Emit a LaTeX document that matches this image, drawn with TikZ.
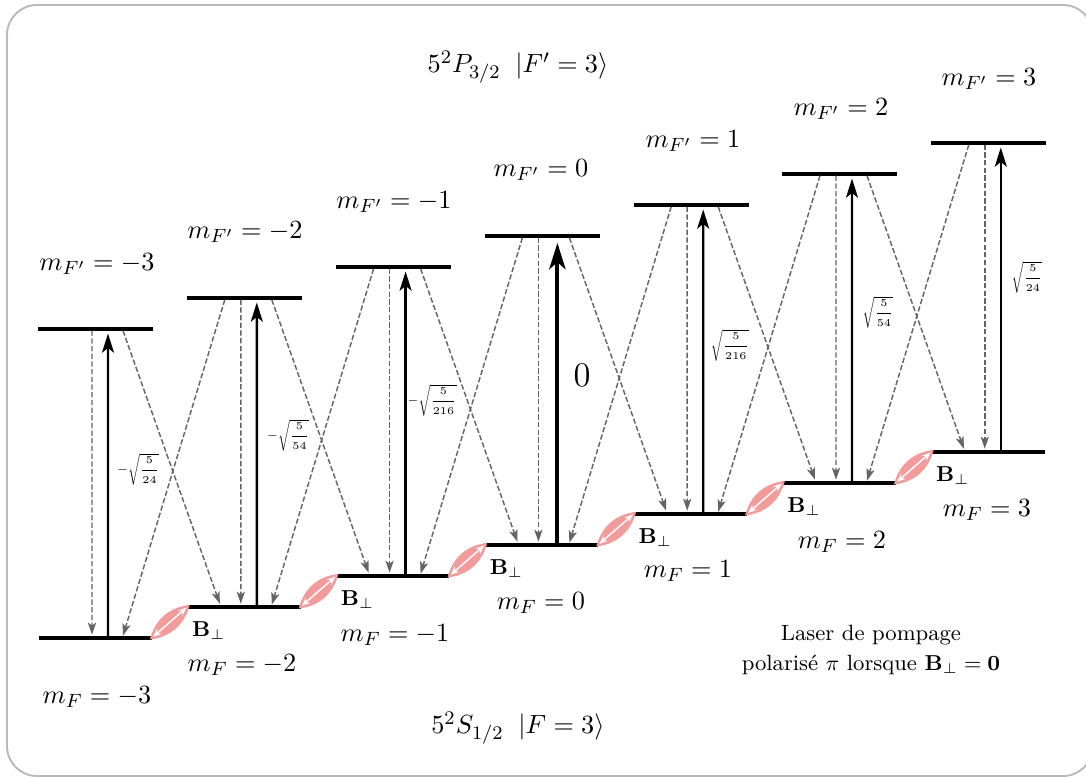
\documentclass[tikz,border=0pt]{standalone}
\usepackage{amsmath,amssymb,graphicx}
\usetikzlibrary{positioning,arrows.meta,calc}
\definecolor{lenspink}{RGB}{242,155,155}
\definecolor{framegray}{RGB}{185,185,185}
\definecolor{decaygray}{RGB}{100,100,100}
\newcommand{\coef}[1]{\scalebox{0.87}{\tiny$#1$}}
\tikzset{
  level/.style={fill=black,inner sep=0pt,minimum height=1.6pt,anchor=west},
  pump/.style={-{Stealth[length=8pt,width=5pt,inset=2pt]},line width=1pt,shorten >=2pt},
  pumpmain/.style={-{Stealth[length=11pt,width=6.8pt,inset=3pt]},line width=1.6pt,shorten >=3pt},
  decay/.style={-{Stealth[length=5pt,width=3.4pt,inset=1.2pt]},dash pattern=on 2.2pt off 1pt,decaygray,line width=0.6pt},
  lens/.style={lenspink,fill=lenspink,line width=0.2pt},
  mixing/.style={{Stealth[length=3.5pt,width=2.8pt]}-{Stealth[length=3.5pt,width=2.8pt]},white,line width=0.6pt,shorten >=1.5pt,shorten <=1.5pt}
}
\begin{document}
\begin{tikzpicture}[x=0.4167pt,y=-0.4167pt,every node/.style={font=\fontsize{10.95}{13}\selectfont}]
\useasboundingbox (0,0) rectangle (1086,777);
\draw[framegray,line width=0.8pt,rounded corners=12.5pt] (7,5) rectangle (1093,776);
% niveaux
\foreach \i in {1,...,7} {
  \node[level,minimum width=47.9pt] (e\i) at ({38+148.8*(\i-1)},{328.7-31*(\i-1)}) {};
  \node[level,minimum width=47pt] (g\i) at ({38.5+148.8*(\i-1)},{637.7-31*(\i-1)}) {};
  \coordinate (eL\i) at ($(e\i.west)+(38,2)$);
  \coordinate (eM\i) at ($(e\i.west)+(54,2)$);
  \coordinate (eR\i) at ($(e\i.west)+(85,2)$);
  \coordinate (eP\i) at ($(e\i.west)+(70,0)$);
  \coordinate (gL\i) at ($(g\i.west)+(84.5,-2)$);
  \coordinate (gM\i) at ($(g\i.west)+(53.5,-3)$);
  \coordinate (gR\i) at ($(g\i.west)+(32.5,-3)$);
  \coordinate (gP\i) at ($(g\i.west)+(69.5,0)$);
  \coordinate (gA\i) at ($(g\i.east)+(-2,1.5)$);
  \coordinate (gB\i) at ($(g\i.west)+(2,-1.5)$);
  \draw[decay] (eM\i) -- (gM\i);
}
\foreach \i in {1,2,3,5,6,7} \draw[pump] (gP\i) -- (eP\i);
\draw[pumpmain] ($(gP4)+(3,0)$) -- ($(eP4)+(3,0)$);
\foreach \i/\j in {1/2,2/3,3/4,4/5,5/6,6/7} {
  \draw[decay] (eR\i) -- (gR\j);
  \draw[decay] (eL\j) -- (gL\i);
  \draw[lens] (gA\i) to[bend left=34] (gB\j) to[bend left=34] (gA\i);
  \draw[mixing] (gA\i) -- (gB\j);
  \node[font=\small] (b\i) at ($(g\j.west)+(21.5,24)$) {$\mathbf{B}_\perp$};
}
% etiquettes
\node (mg1) at (97,697) {$m_F=-3$};
\node (mg2) at (242,665) {$m_F=-2$};
\node (mg3) at (395,635) {$m_F=-1$};
\node (mg4) at (541,603) {$m_F=0$};
\node (mg5) at (688,571) {$m_F=1$};
\node (mg6) at (842,542) {$m_F=2$};
\node (mg7) at (987,510) {$m_F=3$};
\node (me1) at (97,264) {$m_{F'}=-3$};
\node (me2) at (245,232) {$m_{F'}=-2$};
\node (me3) at (394,202) {$m_{F'}=-1$};
\node (me4) at (541,170) {$m_{F'}=0$};
\node (me5) at (693,141) {$m_{F'}=1$};
\node (me6) at (841,109) {$m_{F'}=2$};
\node (me7) at (989,79) {$m_{F'}=3$};
\node (c1) at (138,469) {\coef{-\sqrt{\dfrac{5}{24}}}};
\node (c2) at (288,435) {\coef{-\sqrt{\dfrac{5}{54}}}};
\node (c3) at (432,400) {\coef{-\sqrt{\dfrac{5}{216}}}};
\node[font=\fontsize{15.7}{18}\selectfont] (c4) at (582,375) {$0$};
\node (c5) at (730,345) {\coef{\sqrt{\dfrac{5}{216}}}};
\node (c6) at (878,312) {\coef{\sqrt{\dfrac{5}{54}}}};
\node (c7) at (1027,277) {\coef{\sqrt{\dfrac{5}{24}}}};
\node (top) at (518,67) {$5^2P_{3/2}\;\;|F'=3\rangle$};
\node (bot) at (518,728) {$5^2S_{1/2}\;\;|F=3\rangle$};
\node[font=\fontsize{9.2}{12.5}\selectfont,align=center] (laser) at (871,650) {Laser de pompage\\polarisé $\pi$ lorsque $\mathbf{B}_\perp=\mathbf{0}$};
\end{tikzpicture}
\end{document}
